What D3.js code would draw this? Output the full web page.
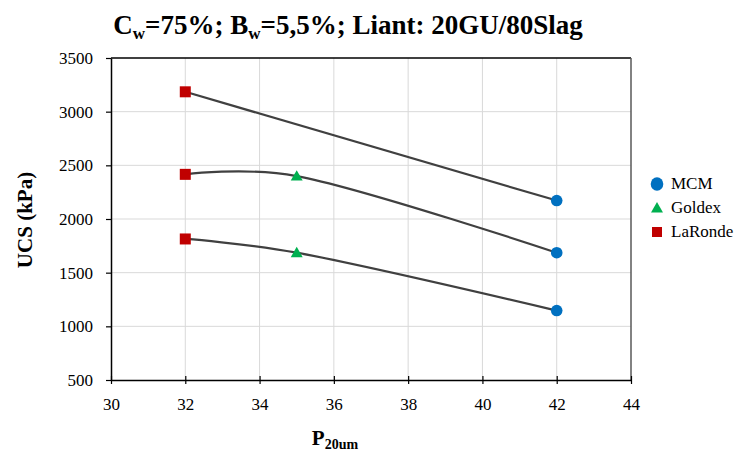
<!DOCTYPE html>
<html><head><meta charset="utf-8">
<script src="https://cdn.jsdelivr.net/npm/d3@7"></script>
<style>body{margin:0;background:#fff}</style>
</head><body><svg id="c" width="736" height="451"></svg>
<script>
const xTicks = [30,32,34,36,38,40,42,44];
const yTicks = [500,1000,1500,2000,2500,3000,3500];
const seriesNames = ["MCM","Goldex","LaRonde"];
const seriesColors = ["#0070C0","#00B050","#C00000"];
const mcmX = [42,42,42];
const mcmY = [2172,1686,1147];
const goldexX = [35,35];
const goldexY = [2400,1686];
const larondeX = [32,32,32];
const larondeY = [3185,2416,1814];
const curve1X = [32,42], curve1Y = [3185,2172];
const curve2X = [32,35,42], curve2Y = [2416,2400,1686];
const curve3X = [32,35,42], curve3Y = [1814,1686,1147];

const svg = d3.select("#c");
const L=111,R=631,T=58,B=380;
const x = d3.scaleLinear().domain([30,44]).range([L,R]);
const y = d3.scaleLinear().domain([500,3500]).range([B,T]);

// grid
svg.append("g").selectAll("line").data(xTicks.slice(1,-1)).join("line")
  .attr("x1",d=>x(d)).attr("x2",d=>x(d)).attr("y1",T).attr("y2",B)
  .attr("stroke","#d9d9d9").attr("stroke-width",1);
svg.append("g").selectAll("line").data(yTicks.slice(1,-1)).join("line")
  .attr("y1",d=>y(d)).attr("y2",d=>y(d)).attr("x1",L).attr("x2",R)
  .attr("stroke","#d9d9d9").attr("stroke-width",1);
// border top/right
svg.append("line").attr("x1",L).attr("x2",R).attr("y1",T).attr("y2",T).attr("stroke","#000").attr("stroke-width",1.5);
svg.append("line").attr("x1",R).attr("x2",R).attr("y1",T).attr("y2",B).attr("stroke","#595959").attr("stroke-width",1.5);

// axes
const xa = svg.append("g").attr("transform",`translate(0,${B})`)
  .call(d3.axisBottom(x).tickValues(xTicks).tickFormat(d3.format("d")).tickSize(4).tickSizeOuter(0).tickPadding(14));
xa.selectAll(".tick line").attr("y1",-4);
const ya = svg.append("g").attr("transform",`translate(${L},0)`)
  .call(d3.axisLeft(y).tickValues(yTicks).tickFormat(d3.format("d")).tickSize(5).tickSizeOuter(0).tickPadding(13));
[xa,ya].forEach(a=>{
  a.select(".domain").attr("stroke","#000").attr("stroke-width",1.5);
  a.selectAll(".tick line").attr("stroke","#000").attr("stroke-width",1.2);
  a.selectAll("text").attr("font-size",17).attr("fill","#000");
});

// curves
const line = d3.line().x(d=>x(d[0])).y(d=>y(d[1])).curve(d3.curveCatmullRom.alpha(0.25));
[[curve1X,curve1Y],[curve2X,curve2Y],[curve3X,curve3Y]].forEach(([cx,cy])=>{
  svg.append("path").datum(cx.map((v,i)=>[v,cy[i]])).attr("d",line)
    .attr("fill","none").attr("stroke","#404040").attr("stroke-width",2.2);
});

// markers
svg.append("g").selectAll("rect").data(larondeX.map((v,i)=>[v,larondeY[i]])).join("rect")
  .attr("x",d=>x(d[0])-5.5).attr("y",d=>y(d[1])-5.5).attr("width",11).attr("height",11).attr("fill",seriesColors[2]);
const tri = d3.symbol().type(d3.symbolTriangle).size(62);
svg.append("g").selectAll("path").data(goldexX.map((v,i)=>[v,goldexY[i]])).join("path")
  .attr("d",tri).attr("transform",d=>`translate(${x(d[0])},${y(d[1])+1})`).attr("fill",seriesColors[1]);
svg.append("g").selectAll("circle").data(mcmX.map((v,i)=>[v,mcmY[i]])).join("circle")
  .attr("cx",d=>x(d[0])).attr("cy",d=>y(d[1])).attr("r",5.8).attr("fill",seriesColors[0]);

// legend
const lg = svg.append("g");
const ly = [184,208,232];
seriesNames.forEach((n,i)=>{
  const cx=657, cy=ly[i];
  if(i===0) lg.append("ellipse").attr("cx",cx).attr("cy",cy).attr("rx",6.3).attr("ry",6.7).attr("fill",seriesColors[0]);
  if(i===1) lg.append("path").attr("d",d3.symbol().type(d3.symbolTriangle).size(62)).attr("transform",`translate(${cx},${cy+1})`).attr("fill",seriesColors[1]);
  if(i===2) lg.append("rect").attr("x",cx-5).attr("y",cy-5).attr("width",10).attr("height",10).attr("fill",seriesColors[2]);
  lg.append("text").attr("x",671).attr("y",cy+5).attr("font-size",17).text(n);
});

// title
const t = svg.append("text").attr("x",348).attr("y",34).attr("text-anchor","middle")
  .attr("font-weight","bold").attr("font-size",27);
t.append("tspan").text("C");
t.append("tspan").attr("font-size",17).attr("dy",5).text("w");
t.append("tspan").attr("dy",-5).text("=75%; B");
t.append("tspan").attr("font-size",17).attr("dy",5).text("w");
t.append("tspan").attr("dy",-5).text("=5,5%; Liant: 20GU/80Slag");

// axis titles
svg.append("text").attr("transform","translate(32,220) rotate(-90)").attr("text-anchor","middle")
  .attr("font-weight","bold").attr("font-size",21).text("UCS (kPa)");
const xl = svg.append("text").attr("x",335).attr("y",445).attr("text-anchor","middle").attr("font-weight","bold").attr("font-size",21);
xl.append("tspan").text("P");
xl.append("tspan").attr("font-size",14).attr("dy",4).text("20um");

svg.selectAll("text").style("font-family","Liberation Serif").style("fill","#000");
</script></body></html>
